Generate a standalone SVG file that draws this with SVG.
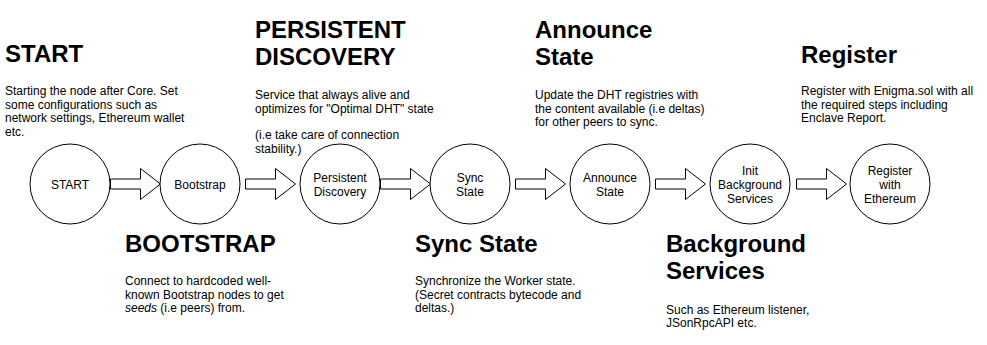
<svg xmlns="http://www.w3.org/2000/svg" width="987" height="345" viewBox="0 0 987 345">
  <style>
    .node circle { fill: #ffffff; stroke: #000000; stroke-width: 1; }
    .node text { font-family: "Liberation Sans", Arial, sans-serif; font-size: 12px; fill: #000000; text-anchor: middle; }
    .flow use { fill: #ffffff; stroke: #000000; stroke-width: 1; stroke-linejoin: miter; }
    .title { font-family: "Liberation Sans", Arial, sans-serif; font-size: 24px; font-weight: bold; fill: #000000; }
    .body { font-family: "Liberation Sans", Arial, sans-serif; font-size: 12px; fill: #000000; }
  </style>
  <defs>
    <!-- hollow block arrow, 50 wide, drawn from the origin -->
    <path id="blockArrow" d="M0,-5 H30 V-15.5 L50,0 L30,15.5 V5 H0 Z"/>
  </defs>
  <rect width="987" height="345" fill="#ffffff"/>

  <!-- connectors -->
  <g id="connectors" class="flow">
    <use href="#blockArrow" x="110.5" y="184"/>
    <use href="#blockArrow" x="245.5" y="184"/>
    <use href="#blockArrow" x="380.5" y="184"/>
    <use href="#blockArrow" x="515.5" y="184"/>
    <use href="#blockArrow" x="655.5" y="184"/>
    <use href="#blockArrow" x="796.5" y="184"/>
  </g>

  <!-- nodes -->
  <g id="node-start" class="node">
    <circle cx="70" cy="184" r="40"/>
    <text x="70" y="188.5">START</text>
  </g>
  <g id="node-bootstrap" class="node">
    <circle cx="200" cy="184" r="40"/>
    <text x="200" y="188.5">Bootstrap</text>
  </g>
  <g id="node-persistent-discovery" class="node">
    <circle cx="340" cy="184" r="40"/>
    <text x="340" y="181.5">Persistent</text>
    <text x="340" y="195.5">Discovery</text>
  </g>
  <g id="node-sync-state" class="node">
    <circle cx="470" cy="184" r="40"/>
    <text x="470" y="181.5">Sync</text>
    <text x="470" y="195.5">State</text>
  </g>
  <g id="node-announce-state" class="node">
    <circle cx="610" cy="184" r="40"/>
    <text x="610" y="181.5">Announce</text>
    <text x="610" y="195.5">State</text>
  </g>
  <g id="node-init-background" class="node">
    <circle cx="750" cy="184" r="40"/>
    <text x="750" y="174.5">Init</text>
    <text x="750" y="188.5">Background</text>
    <text x="750" y="202.5">Services</text>
  </g>
  <g id="node-register" class="node">
    <circle cx="890" cy="184" r="40"/>
    <text x="890" y="174.5">Register</text>
    <text x="890" y="188.5">with</text>
    <text x="890" y="202.5">Ethereum</text>
  </g>

  <!-- step descriptions -->
  <g id="note-start">
    <text class="title" x="5" y="62">START</text>
    <text class="body" x="5" y="95">Starting the node after Core. Set</text>
    <text class="body" x="5" y="108.7">some configurations such as</text>
    <text class="body" x="5" y="122.4">network settings, Ethereum wallet</text>
    <text class="body" x="5" y="136">etc.</text>
  </g>
  <g id="note-persistent">
    <text class="title" x="255" y="38">PERSISTENT</text>
    <text class="title" x="255" y="65">DISCOVERY</text>
    <text class="body" x="255" y="99">Service that always alive and</text>
    <text class="body" x="255" y="112.7">optimizes for "Optimal DHT" state</text>
    <text class="body" x="255" y="139">(i.e take care of connection</text>
    <text class="body" x="255" y="152.5">stability.)</text>
  </g>
  <g id="note-announce">
    <text class="title" x="535" y="38">Announce</text>
    <text class="title" x="535" y="65">State</text>
    <text class="body" x="535" y="99">Update the DHT registries with</text>
    <text class="body" x="535" y="112.7">the content available (i.e deltas)</text>
    <text class="body" x="535" y="126.4">for other peers to sync.</text>
  </g>
  <g id="note-register">
    <text class="title" x="801" y="63">Register</text>
    <text class="body" x="801" y="95">Register with Enigma.sol with all</text>
    <text class="body" x="801" y="108.7">the required steps including</text>
    <text class="body" x="801" y="122.4">Enclave Report.</text>
  </g>
  <g id="note-bootstrap">
    <text class="title" x="125" y="252">BOOTSTRAP</text>
    <text class="body" x="125" y="285">Connect to hardcoded well-</text>
    <text class="body" x="125" y="298.7">known Bootstrap nodes to get</text>
    <text class="body" x="125" y="312.4"><tspan font-style="italic">seeds</tspan> (i.e peers) from.</text>
  </g>
  <g id="note-sync">
    <text class="title" x="415" y="252">Sync State</text>
    <text class="body" x="415" y="285">Synchronize the Worker state.</text>
    <text class="body" x="415" y="298.7">(Secret contracts bytecode and</text>
    <text class="body" x="415" y="312.4">deltas.)</text>
  </g>
  <g id="note-background">
    <text class="title" x="666" y="252">Background</text>
    <text class="title" x="666" y="279">Services</text>
    <text class="body" x="666" y="313.5">Such as Ethereum listener,</text>
    <text class="body" x="666" y="327.2">JSonRpcAPI etc.</text>
  </g>
</svg>
